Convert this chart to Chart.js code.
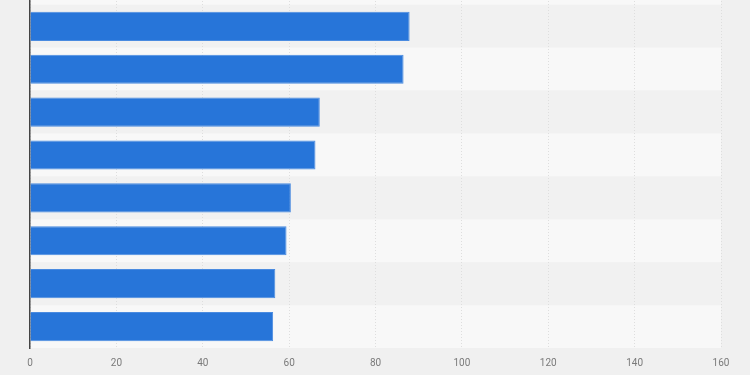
<!DOCTYPE html>
<html>
<head>
<meta charset="utf-8">
<script src="https://cdn.jsdelivr.net/npm/chart.js@4/dist/chart.umd.min.js"></script>
<style>
  html, body { margin: 0; padding: 0; background: #f0f0f0; overflow: hidden; width: 750px; height: 375px; }
  #wrap { position: absolute; left: 0; top: -38px; width: 750px; height: 413px; }
</style>
</head>
<body>
<div id="wrap"><canvas id="chart" width="750" height="413"></canvas></div>
<script>
// rows top to bottom; first row is only partly visible at the top edge
const categories = ['Row 0', 'Row 1', 'Row 2', 'Row 3', 'Row 4', 'Row 5', 'Row 6', 'Row 7', 'Row 8'];
const values = [null, 87.9, 86.5, 67.1, 66.1, 60.4, 59.4, 56.8, 56.3];
const xTicks = [0, 20, 40, 60, 80, 100, 120, 140, 160];

// alternating row bands behind the bars
const stripes = {
  id: 'stripes',
  beforeDraw(chart) {
    const { ctx, chartArea, scales } = chart;
    const y = scales.y;
    const step = (chartArea.bottom - chartArea.top) / categories.length;
    ctx.save();
    categories.forEach((c, i) => {
      const mid = y.getPixelForValue(i);
      ctx.fillStyle = i % 2 === 1 ? '#f1f1f1' : '#f8f8f8';
      ctx.fillRect(chartArea.left, mid - step / 2, chartArea.right - chartArea.left, step);
    });
    ctx.restore();
  }
};

new Chart(document.getElementById('chart'), {
  type: 'bar',
  data: {
    labels: categories,
    datasets: [{
      data: values,
      backgroundColor: '#2775d9',
      borderColor: '#4a8be0',
      borderWidth: 1,
      borderSkipped: 'start',
      barPercentage: 0.68,
      categoryPercentage: 1,
    }],
  },
  options: {
    indexAxis: 'y',
    responsive: false,
    animation: false,
    layout: { padding: { left: 0, right: 29, top: 0, bottom: 0 } },
    plugins: {
      legend: { display: false },
      tooltip: { enabled: false },
    },
    scales: {
      x: {
        min: 0,
        max: 160,
        afterBuildTicks: (axis) => { axis.ticks = xTicks.map(v => ({ value: v })); },
        afterFit: (axis) => { axis.height = 27; },
        ticks: { color: '#7a7a7a', font: { family: 'Roboto', size: 10 }, padding: 9 },
        grid: { color: '#dedede', borderDash: [1, 2], drawTicks: false, lineWidth: 1 },
        border: { display: false, dash: [1, 2] },
      },
      y: {
        afterFit: (axis) => { axis.width = 30; },
        ticks: { display: false },
        grid: { display: false, drawTicks: false },
        border: { display: true, color: '#444', width: 1.5 },
      },
    },
  },
  plugins: [stripes],
});
</script>
</body>
</html>
